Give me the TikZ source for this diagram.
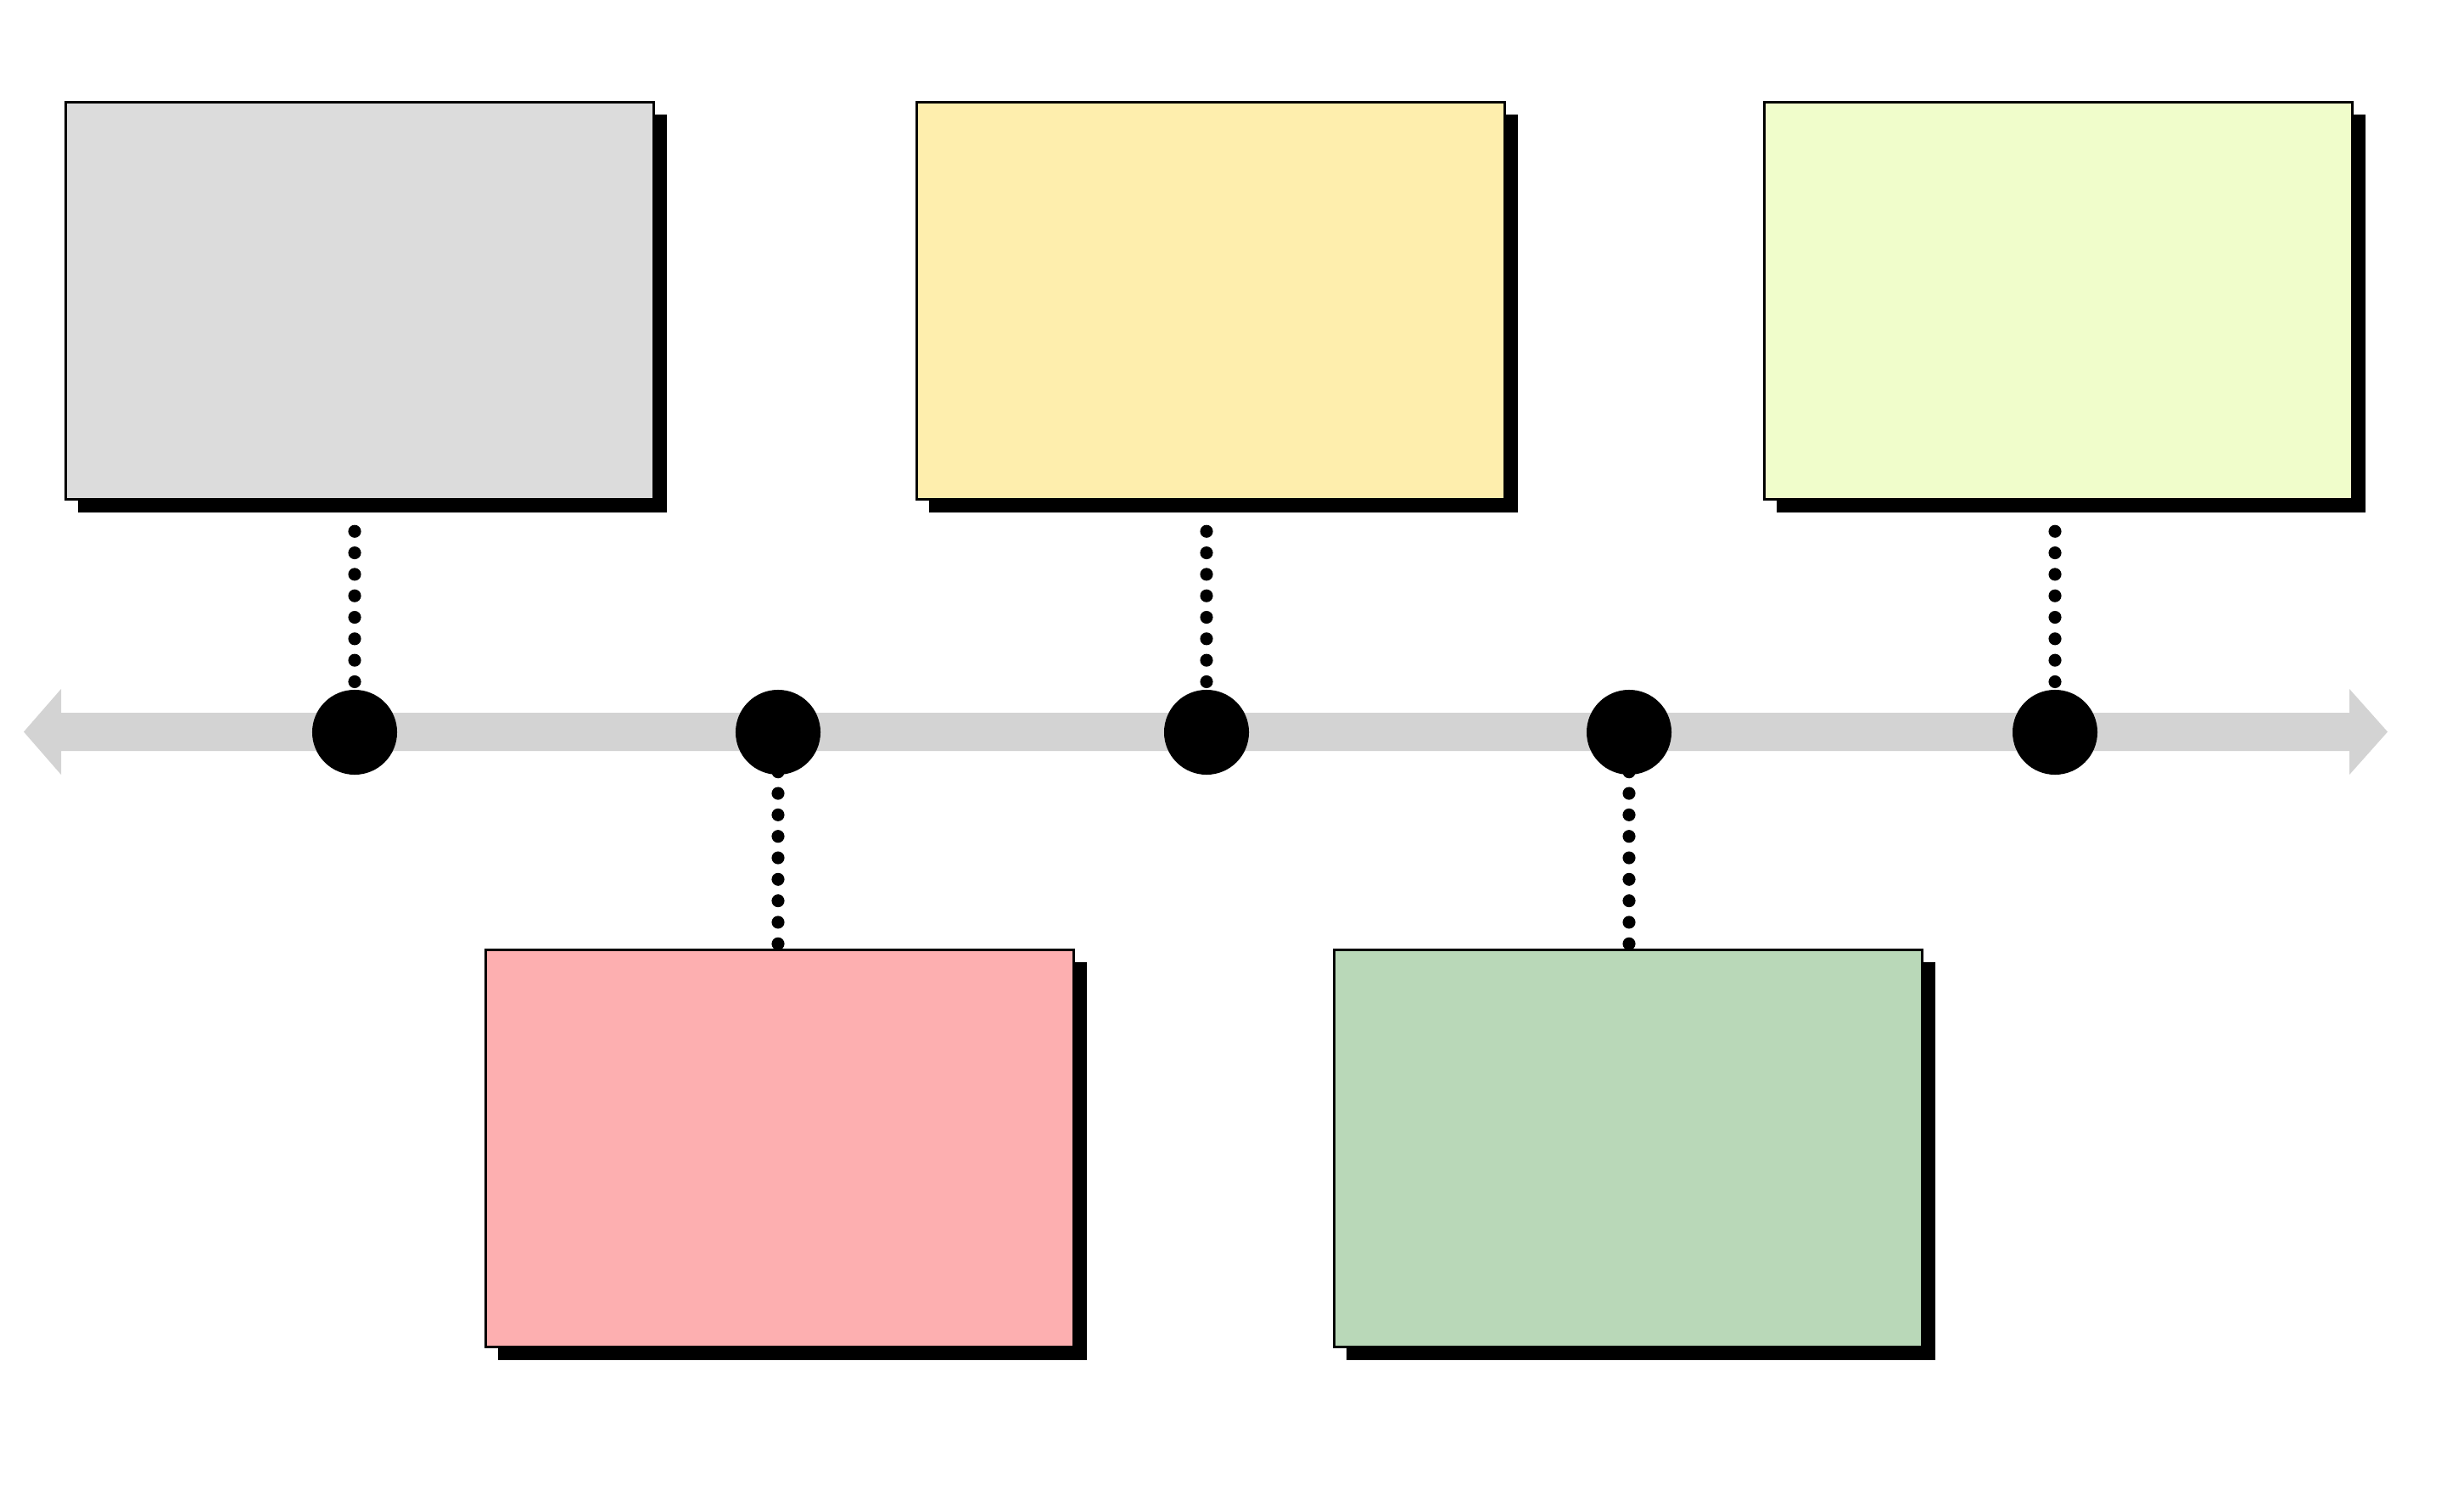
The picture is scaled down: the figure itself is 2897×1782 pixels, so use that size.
\documentclass[tikz,border=0pt]{standalone}
\usetikzlibrary{shadows}
\definecolor{boxgray}{HTML}{DCDCDC}
\definecolor{boxyellow}{HTML}{FEEEAD}
\definecolor{boxlime}{HTML}{F0FDCB}
\definecolor{boxpink}{HTML}{FDAFB0}
\definecolor{boxgreen}{HTML}{B9D8B8}
\definecolor{barcolor}{HTML}{D3D3D3}
\begin{document}
\begin{tikzpicture}[x=0.01cm,y=-0.01cm,
  card/.style={draw=black, line width=0.9pt, minimum width=6.93cm, minimum height=4.68cm,
    inner sep=0pt, drop shadow={shadow xshift=0.15cm, shadow yshift=-0.15cm, fill=black, opacity=1}},
  event/.style={circle, fill=black, minimum size=1cm, inner sep=0pt},
  dotline/.style={line width=4.3pt, line cap=round, dash pattern=on 0pt off 7.2pt}]
  \useasboundingbox[fill=white] (0,0) rectangle (2897,1782);

  % timeline bar with arrow heads at both ends
  \fill[barcolor] (28,862.5) -- (72,812) -- (72,840) -- (2769,840) -- (2769,812)
    -- (2814,862.5) -- (2769,913) -- (2769,885) -- (72,885) -- (72,913) -- cycle;

  % event cards
  \node[card, fill=boxgray]   (b1) at (424,354.5)  {};
  \node[card, fill=boxpink]   (b2) at (919,1353.5) {};
  \node[card, fill=boxyellow] (b3) at (1427,354.5) {};
  \node[card, fill=boxgreen]  (b4) at (1919,1353.5){};
  \node[card, fill=boxlime]   (b5) at (2426,354.5) {};

  % event markers on the timeline
  \node[event] (c1) at (418,863)  {};
  \node[event] (c2) at (917,863)  {};
  \node[event] (c3) at (1422,863) {};
  \node[event] (c4) at (1920,863) {};
  \node[event] (c5) at (2422,863) {};

  % dotted leaders from cards to markers
  \draw[dotline] ([yshift=-0.36cm]c1 |- b1.south) -- (c1.north);
  \draw[dotline] ([yshift=-0.36cm]c3 |- b3.south) -- (c3.north);
  \draw[dotline] ([yshift=-0.36cm]c5 |- b5.south) -- (c5.north);
  \draw[dotline] ([yshift=0.04cm]c2.south) -- ([yshift=0.04cm]c2 |- b2.north);
  \draw[dotline] ([yshift=0.04cm]c4.south) -- ([yshift=0.04cm]c4 |- b4.north);
\end{tikzpicture}
\end{document}
